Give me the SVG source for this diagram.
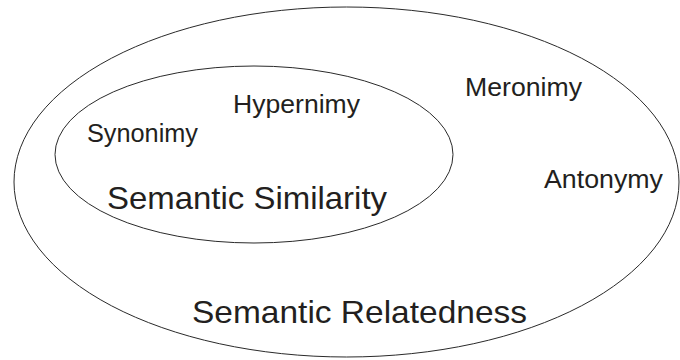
<svg xmlns="http://www.w3.org/2000/svg" width="680" height="360" viewBox="0 0 680 360">
  <style>
    .set { fill: none; stroke: #2a2a2a; stroke-width: 1; }
    .lbl { font-family: "Liberation Sans", Arial, Helvetica, sans-serif; fill: #231f20; }
    .small { font-size: 25px; }
    .big { font-size: 32px; }
  </style>
  <rect width="680" height="360" fill="#ffffff"/>

  <!-- outer set: semantic relatedness -->
  <g id="relatedness">
    <ellipse class="set" cx="346.5" cy="182" rx="332.5" ry="175"/>
    <text class="lbl big" x="192" y="323" textLength="335" lengthAdjust="spacingAndGlyphs">Semantic Relatedness</text>
    <text class="lbl small" x="465" y="96" textLength="117" lengthAdjust="spacingAndGlyphs">Meronimy</text>
    <text class="lbl small" x="544" y="188" textLength="119" lengthAdjust="spacingAndGlyphs">Antonymy</text>
  </g>

  <!-- inner set: semantic similarity -->
  <g id="similarity">
    <ellipse class="set" cx="254" cy="154.5" rx="199" ry="88.5"/>
    <text class="lbl big" x="107" y="209" textLength="280" lengthAdjust="spacingAndGlyphs">Semantic Similarity</text>
    <text class="lbl small" x="87" y="142" textLength="111" lengthAdjust="spacingAndGlyphs">Synonimy</text>
    <text class="lbl small" x="233" y="113" textLength="127" lengthAdjust="spacingAndGlyphs">Hypernimy</text>
  </g>

  <g id="connectors"/>
</svg>
